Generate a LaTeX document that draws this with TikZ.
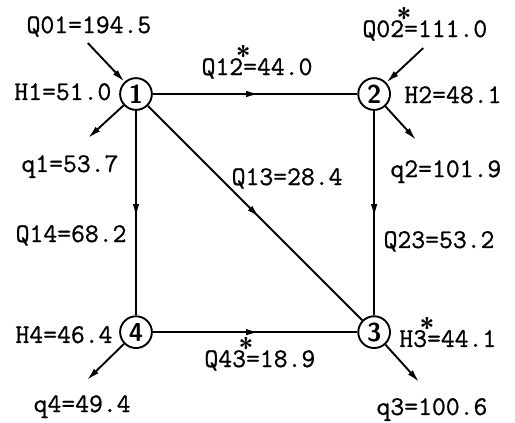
\documentclass[tikz,border=0pt]{standalone}
\usepackage{fontspec}
\usepackage{tikz}
\usetikzlibrary{positioning, arrows.meta, decorations.markings}

\newfontfamily\maquina{Latin Modern Mono}[FakeBold=0.9]
\newcommand{\marca}{\makebox[0pt]{\raisebox{0.36em}{\sffamily\bfseries *}}}

\tikzset{
  nodo/.style={circle, draw, line width=1.9pt, minimum size=1.12cm, inner sep=0pt,
    font=\sffamily\bfseries\fontsize{26}{26}\selectfont},
  dato/.style={inner sep=0pt, anchor=base, font=\maquina\fontsize{27}{30}\selectfont},
  tubo/.style={line width=1.9pt, postaction={decorate},
    decoration={markings, mark=at position 0.52 with {\arrow{Latex[length=13pt,width=6.5pt]}}}},
  flujo/.style={line width=1.9pt, -{Latex[length=13pt,width=6.5pt]}}
}

\begin{document}
\begin{tikzpicture}[node distance=8.4cm, on grid]
		\useasboundingbox (-4.797,3.316) rectangle (13.369,-11.570);
		% Nudos de la red
		\node[nodo] (n1) at (0,0) {1};
		\node[nodo, right=of n1] (n2) {2};
		\node[nodo, below=of n2] (n3) {3};
		\node[nodo, below=of n1] (n4) {4};
		% Extremos de entradas y salidas
		\coordinate (e1) at (-1.70,1.80);
		\coordinate (e2) at (10.13,1.62);
		\coordinate (s1) at (-1.69,-1.55);
		\coordinate (s2) at (9.88,-1.62);
		\coordinate (s3) at (9.99,-10.16);
		\coordinate (s4) at (-1.73,-10.09);
		% Tuberias
		\draw[tubo] (n1) -- (n2);
		\draw[tubo] (n1) -- (n4);
		\draw[tubo] (n1) -- (n3);
		\draw[tubo] (n2) -- (n3);
		\draw[tubo] (n4) -- (n3);
		% Caudales de entrada y consumos
		\draw[flujo] (e1) -- (n1);
		\draw[flujo] (e2) -- (n2);
		\draw[flujo] (n1) -- (s1);
		\draw[flujo] (n2) -- (s2);
		\draw[flujo] (n3) -- (s3);
		\draw[flujo] (n4) -- (s4);
		% Valores
		\node[dato] (tQ01) at (-1.66,2.15) {Q01=194.5};
		\node[dato] (tQ02) at (10.19,2.01) {Q02\marca=111.0};
		\node[dato] (tH1) at (-2.58,-0.21) {H1=51.0};
		\node[dato] (tH2) at (11.18,-0.32) {H2=48.1};
		\node[dato] (tQ12) at (4.27,0.67) {Q12\marca=44.0};
		\node[dato] (tq1) at (-2.33,-2.75) {q1=53.7};
		\node[dato] (tq2) at (10.93,-2.93) {q2=101.9};
		\node[dato] (tQ13) at (5.33,-3.21) {Q13=28.4};
		\node[dato] (tQ14) at (-2.29,-5.22) {Q14=68.2};
		\node[dato] (tQ23) at (10.69,-5.43) {Q23=53.2};
		\node[dato] (tH4) at (-2.54,-8.78) {H4=46.4};
		\node[dato] (tH3) at (11.00,-8.92) {H3\marca=44.1};
		\node[dato] (tQ43) at (4.37,-9.63) {Q43\marca=18.9};
		\node[dato] (tq4) at (-1.90,-11.22) {q4=49.4};
		\node[dato] (tq3) at (10.44,-11.32) {q3=100.6};
	\end{tikzpicture}
\end{document}
